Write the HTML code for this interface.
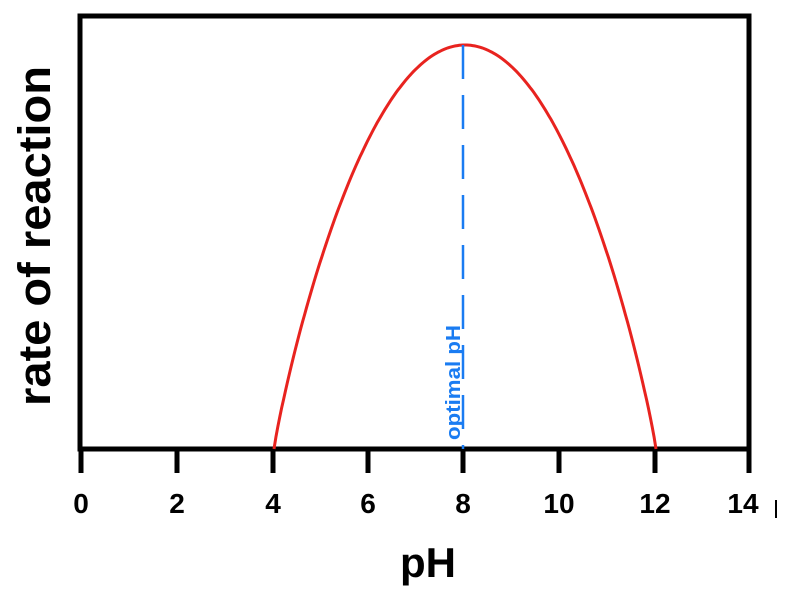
<!DOCTYPE html>
<html><head><meta charset="utf-8"><style>body{margin:0;background:#fff}</style></head><body>
<svg width="797" height="599" xmlns="http://www.w3.org/2000/svg" font-family="Liberation Sans, sans-serif">
<rect x="80" y="16" width="669" height="433" fill="none" stroke="#000" stroke-width="5"/>
<g stroke="#000" stroke-width="5">
<line x1="81" y1="449" x2="81" y2="473"/><line x1="177" y1="449" x2="177" y2="473"/><line x1="273" y1="449" x2="273" y2="473"/><line x1="368" y1="449" x2="368" y2="473"/><line x1="463" y1="449" x2="463" y2="473"/><line x1="559" y1="449" x2="559" y2="473"/><line x1="655" y1="449" x2="655" y2="473"/><line x1="749" y1="449" x2="749" y2="473"/>
</g>
<g font-size="28" font-weight="bold" text-anchor="middle">
<text x="81" y="513">0</text><text x="177" y="513">2</text><text x="273" y="513">4</text><text x="368" y="513">6</text><text x="463" y="513">8</text><text x="559" y="513">10</text><text x="655" y="513">12</text><text x="743" y="513">14</text>
</g>
<line x1="776" y1="500" x2="776" y2="518" stroke="#000" stroke-width="2"/>
<path id="c" fill="none" stroke="#e8231f" stroke-width="3"/>
<line x1="463" y1="45" x2="463" y2="449" stroke="#1a7cf2" stroke-width="2.5" stroke-dasharray="34,16"/>
<rect x="441" y="322" width="20" height="120" fill="#fff"/>
<text transform="translate(460,440) rotate(-90)" font-size="20" font-weight="bold" fill="#1a7cf2" textLength="115" lengthAdjust="spacingAndGlyphs">optimal pH</text>
<text transform="translate(50,236) rotate(-90)" font-size="45" font-weight="bold" text-anchor="middle" textLength="340" lengthAdjust="spacingAndGlyphs">rate of reaction</text>
<text x="428" y="577" font-size="42" font-weight="bold" text-anchor="middle">pH</text>
</svg>
<script>
var p=[];for(var i=0;i<=200;i++){var x=274+(656-274)*i/200;var t=(x-465)/191;if(t>1)t=1;if(t<-1)t=-1;var y=449-404*Math.pow(1-t*t,0.9);p.push((i?'L':'M')+x.toFixed(1)+' '+y.toFixed(1));}
document.getElementById('c').setAttribute('d',p.join(''));
</script>
</body></html>
